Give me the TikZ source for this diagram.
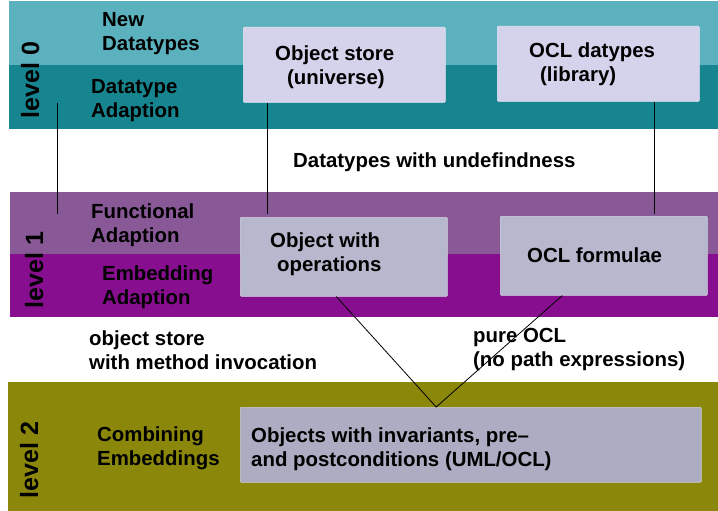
\documentclass[tikz,border=0pt]{standalone}
\usepackage{fontspec}
\setmainfont{Liberation Sans}
\usetikzlibrary{calc}

\definecolor{lvzerotop}{RGB}{91,177,189}
\definecolor{lvzerobot}{RGB}{22,133,143}
\definecolor{lvonetop}{RGB}{136,88,151}
\definecolor{lvonebot}{RGB}{136,14,144}
\definecolor{lvtwo}{RGB}{138,135,10}
\definecolor{boxzero}{RGB}{213,211,236}
\definecolor{boxone}{RGB}{183,183,205}
\definecolor{boxtwo}{RGB}{172,172,194}

\tikzset{
  x=1pt, y=-1pt,
  txt/.style={inner sep=0pt, anchor=north west, align=left,
    font=\fontsize{20.4}{24}\selectfont\bfseries},
  lvl/.style={inner sep=0pt, anchor=base, rotate=90,
    font=\fontsize{25}{30}\selectfont\bfseries},
  cbox/.style={draw=white!40!#1, fill=#1, line width=0.6pt,
    rounded corners=1pt, inner sep=0pt, anchor=north west},
  link/.style={black, line width=0.8pt},
}

\begin{document}
\begin{tikzpicture}
\useasboundingbox (0,0) rectangle (718,511);

% level bands
\fill[lvzerotop] (9,1) rectangle (718,65);
\fill[lvzerobot] (9,65) rectangle (718,129);
\fill[lvonetop] (10,192) rectangle (718,254);
\fill[lvonebot] (10,254) rectangle (718,317);
\fill[lvtwo] (8,382) rectangle (718,511);

% boxes
\node[cbox=boxzero, minimum width=202pt, minimum height=75pt] (objstore) at (243,27) {};
\node[cbox=boxzero, minimum width=202pt, minimum height=75pt] (ocldt) at (497,26) {};
\node[cbox=boxone, minimum width=207pt, minimum height=79pt] (objops) at (240,217) {};
\node[cbox=boxone, minimum width=207pt, minimum height=79pt] (oclform) at (500,216) {};
\node[cbox=boxtwo, minimum width=461pt, minimum height=75pt] (objinv) at (240,407) {};

% level labels
\node[lvl] (lzero) at (39,80) {level 0};
\node[lvl] (lone) at (43,270) {level 1};
\node[lvl] (ltwo) at (38,460) {level 2};

% band labels
\node[txt] (newdt) at (102,12.5) {New\\Datatypes};
\node[txt] (dtadapt) at (91,79.5) {Datatype\\Adaption};
\node[txt] (funcadapt) at (91,203.5) {Functional\\Adaption};
\node[txt] (embadapt) at (102,265.5) {Embedding\\Adaption};
\node[txt] (combemb) at (97,426.5) {Combining\\Embeddings};

% box texts
\node[txt] (tobjstore) at (275,45.5) {Object store\\\hspace*{12pt}(universe)};
\node[txt] (tocldt) at (529,43) {OCL datypes\\\hspace*{11pt}(library)};
\node[txt] (tobjops) at (270,232.5) {Object with\\\hspace*{7pt}operations};
\node[txt] (toclform) at (527,247.5) {OCL formulae};
\node[txt] (tobjinv) at (251,427.5) {Objects with invariants, pre--\\and postconditions (UML/OCL)};

% connector labels
\node[txt] (dtundef) at (293,152.2) {Datatypes with undefindness};
\node[txt] (methinv) at (89,330.5) {object store\\with method invocation};
\node[txt] (pureocl) at (473,328.5) {pure OCL\\(no path expressions)};

% connectors
\coordinate (lvtop) at (57,103);
\coordinate (lvbot) at (57,214);
\draw[link] (lvtop) -- (lvbot);

\coordinate (osend) at (267,214);
\draw[link] (objstore.south -| osend) -- (osend);

\coordinate (odend) at (654,214);
\draw[link] (ocldt.south -| odend) -- (odend);

\coordinate (meet) at ($(objinv.north west)!0.425!(objinv.north east)$);
\draw[link] ($(objops.south west)!0.464!(objops.south east)$) -- (meet)
  -- ($(oclform.south west)!0.30!(oclform.south east)$);
\end{tikzpicture}
\end{document}
